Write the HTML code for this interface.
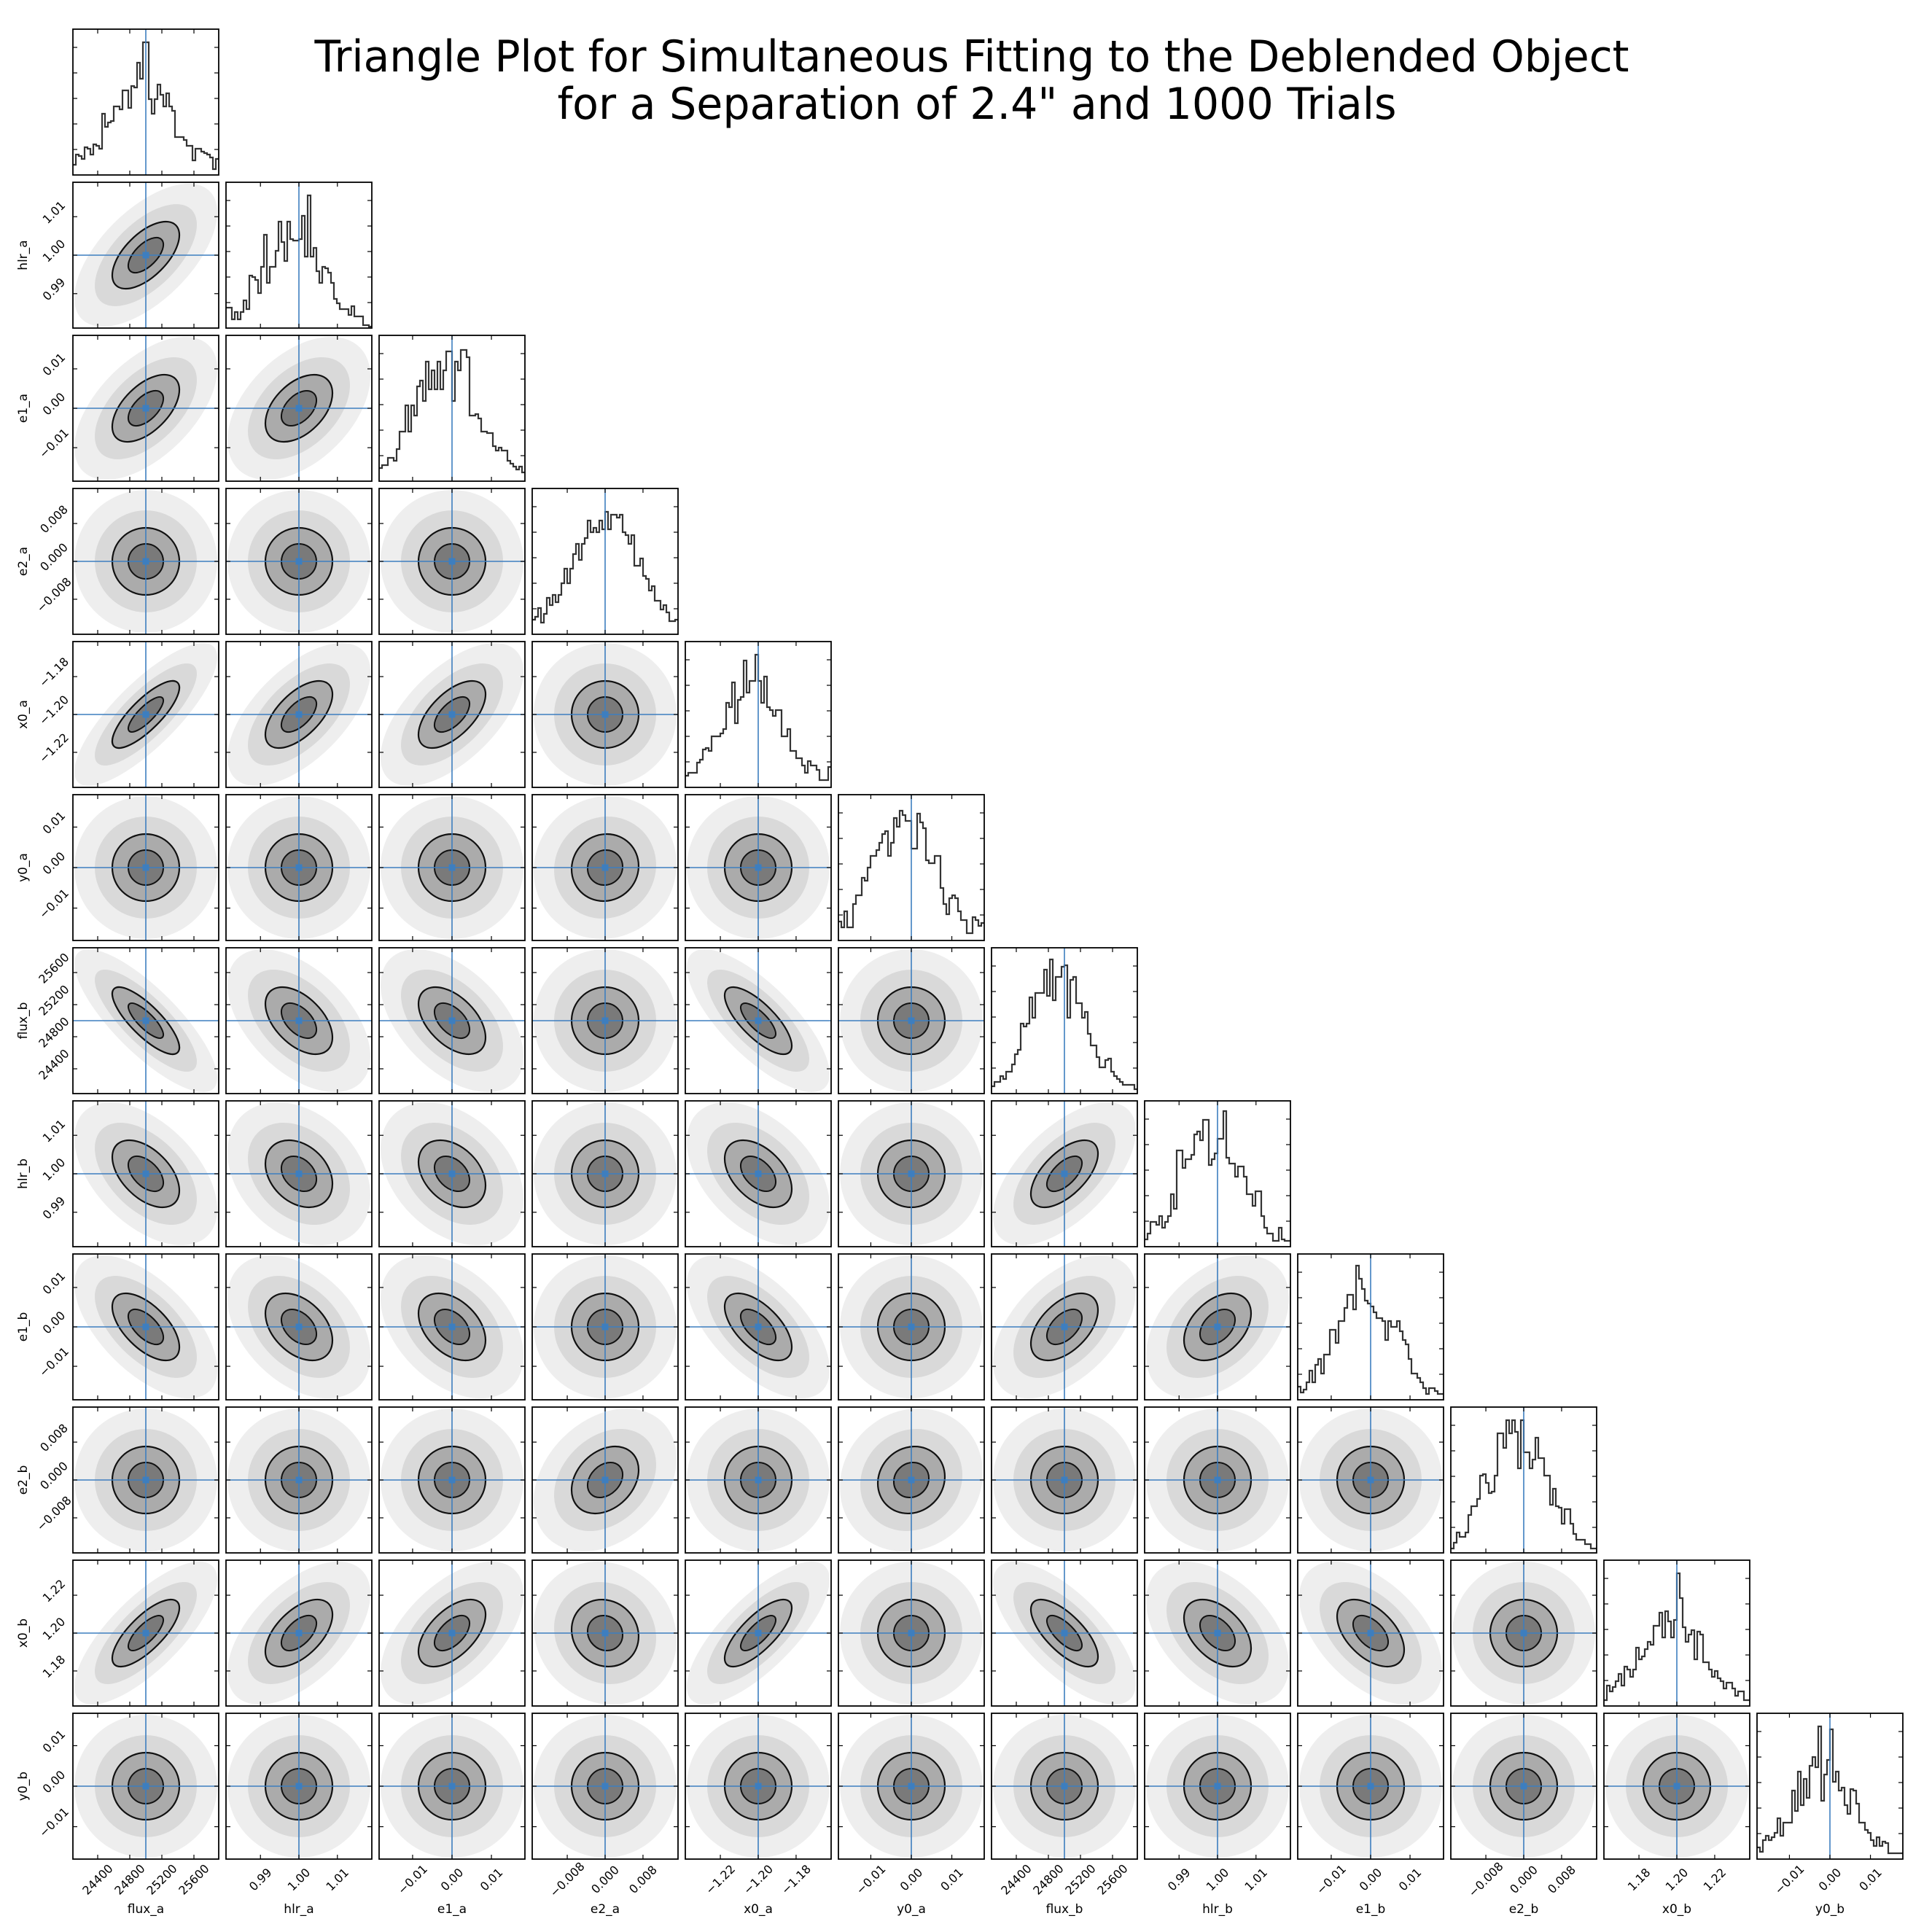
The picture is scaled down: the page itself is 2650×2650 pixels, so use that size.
<!DOCTYPE html>
<html><head><meta charset="utf-8"><title>Triangle Plot</title>
<style>html,body{margin:0;padding:0;background:#fff}svg{display:block}text{font-family:"DejaVu Sans","Liberation Sans",sans-serif}</style>
</head><body>
<svg id="chart" width="2650" height="2650" viewBox="0 0 2650 2650" xmlns="http://www.w3.org/2000/svg">
<rect width="2650" height="2650" fill="#fff"/>
<text x="1333" y="98" font-size="60" text-anchor="middle" textLength="1803" lengthAdjust="spacingAndGlyphs">Triangle Plot for Simultaneous Fitting to the Deblended Object</text>
<text x="1340" y="163" font-size="60" text-anchor="middle" textLength="1151" lengthAdjust="spacingAndGlyphs">for a Separation of 2.4" and 1000 Trials</text>
<g id="plots"></g>
</svg>
<script>
const varNames = ["flux_a","hlr_a","e1_a","e2_a","x0_a","y0_a","flux_b","hlr_b","e1_b","e2_b","x0_b","y0_b"];
const centers = [25000,1.0,0,0,-1.2,0,25000,1.0,0,0,1.2,0];
const ranges = [1818,0.0379,0.037,0.0308,0.077,0.036,1818,0.0379,0.037,0.0308,0.077,0.036];
const tickValues = [
 [24400,24800,25200,25600],[0.99,1.00,1.01],[-0.01,0,0.01],[-0.008,0,0.008],[-1.22,-1.20,-1.18],[-0.01,0,0.01],
 [24400,24800,25200,25600],[0.99,1.00,1.01],[-0.01,0,0.01],[-0.008,0,0.008],[1.18,1.20,1.22],[-0.01,0,0.01]];
const tickLabels = [
 ["24400","24800","25200","25600"],["0.99","1.00","1.01"],["\u22120.01","0.00","0.01"],["\u22120.008","0.000","0.008"],["\u22121.22","\u22121.20","\u22121.18"],["\u22120.01","0.00","0.01"],
 ["24400","24800","25200","25600"],["0.99","1.00","1.01"],["\u22120.01","0.00","0.01"],["\u22120.008","0.000","0.008"],["1.18","1.20","1.22"],["\u22120.01","0.00","0.01"]];
const histFluxA = [7,14,13,11,19,18,14,21,20,18,42,33,36,37,47,47,45,58,58,46,61,60,77,66,91,91,52,42,52,62,55,47,56,47,44,26,26,26,24,20,20,10,18,18,16,15,14,12,4,11];
const histHlrA = [14,14,6,11,6,11,19,13,36,35,33,24,42,64,31,42,42,53,73,59,46,73,61,60,60,61,77,49,91,49,55,39,31,42,41,38,31,20,17,13,13,13,9,15,8,8,8,2,2,1];
const histE1A = [9,11,11,16,16,14,22,34,34,52,34,52,45,65,69,55,82,63,76,63,82,63,76,89,89,55,82,76,90,90,85,45,45,46,43,34,34,33,33,24,21,23,21,21,14,12,10,8,10,6];
const histE2A = [10,12,18,8,14,25,20,27,22,27,35,45,35,45,55,62,51,62,66,78,70,73,70,78,72,84,72,82,82,80,82,70,68,62,68,47,47,52,40,38,30,33,23,23,17,20,15,9,9,10];
const histX0A = [8,10,10,10,17,19,26,27,25,35,35,35,37,40,58,55,72,44,60,62,87,65,73,73,91,73,58,76,55,53,49,53,53,35,35,40,25,25,20,20,15,10,18,15,15,12,5,5,5,14];
const histY0A = [13,9,20,9,9,25,31,31,43,41,50,58,58,62,67,73,75,58,67,84,78,89,86,82,82,63,63,87,81,77,55,53,53,58,58,36,25,18,29,31,29,20,14,14,5,5,16,14,10,12];
const histFluxB = [5,8,8,12,10,15,15,20,27,30,48,46,48,66,52,69,69,69,85,67,92,64,80,80,87,88,52,78,80,62,62,52,56,41,33,33,25,18,18,23,24,15,12,10,8,6,6,6,6,3];
const histHlrB = [5,9,17,17,15,21,13,17,21,36,26,66,66,54,60,60,63,77,79,73,87,87,56,60,64,74,74,93,61,57,57,48,55,55,48,36,36,28,38,38,21,13,9,9,4,4,13,5,4,4];
const histE1B = [9,5,7,12,20,12,24,28,18,31,31,48,48,39,54,54,63,72,72,62,92,83,76,68,66,64,60,56,56,54,41,54,50,50,54,47,41,38,28,18,18,15,12,8,4,8,8,6,4,4];
const histE2B = [3,7,14,11,11,14,26,32,32,37,53,54,48,41,42,53,82,82,72,91,82,91,83,58,91,69,69,58,64,79,65,65,53,53,33,44,32,31,20,30,30,20,13,9,9,9,6,6,3,3];
const histX0B = [4,14,10,13,17,22,14,27,25,20,25,40,32,34,39,44,42,55,55,64,47,65,58,47,59,91,74,54,44,49,52,32,51,49,30,30,25,20,24,19,17,12,16,16,12,7,10,10,4,4];
const histY0B = [8,5,13,16,13,15,18,28,16,25,25,25,47,33,60,37,55,42,64,70,63,91,40,58,68,89,53,60,47,49,37,31,48,47,38,25,25,20,18,13,9,15,9,12,11,4,4,4,4,4];
const histograms = [histFluxA,histHlrA,histE1A,histE2A,histX0A,histY0A,histFluxB,histHlrB,histE1B,histE2B,histX0B,histY0B];
const corrRows = [
 [],
 [0.6],
 [0.55,0.45],
 [0,0,0],
 [0.8,0.6,0.6,0],
 [0,0,0,0.05,0],
 [-0.8,-0.5,-0.5,0,-0.75,0],
 [-0.5,-0.3,-0.35,0,-0.45,0,0.6],
 [-0.6,-0.4,-0.4,0,-0.6,0,0.5,0.4],
 [0,0,0,0.3,0,0.1,0,0,0],
 [0.75,0.55,0.55,-0.1,0.75,0,-0.7,-0.45,-0.5,0],
 [0,0,0,0,0,0,0,0,0,0,0]];

const NS = "http://www.w3.org/2000/svg";
const X0 = 100, Y0 = 40, S = 200, PITCH = 210, N = varNames.length, NB = 50;
const root = document.getElementById('plots');
function mk(tag, attrs, parent){ const e=document.createElementNS(NS,tag); for(const k in attrs) e.setAttribute(k,attrs[k]); (parent||root).appendChild(e); return e; }
function panelLeft(j){ return X0 + j*PITCH; }
function panelTop(i){ return Y0 + i*PITCH; }
function xScale(j,v){ return panelLeft(j) + (0.5 + (v-centers[j])/ranges[j])*S; }
function yScale(i,v){ return panelTop(i) + (0.5 - (v-centers[i])/ranges[i])*S; }
function yCount(i,c){ return panelTop(i) + S - c/100*S; }
const BLUE = "#3d7ebf";

const defs = mk('defs',{});
for(let i=0;i<N;i++){
  for(let j=0;j<=i;j++){
    const g = mk('g',{});
    
    
    const cp = mk('clipPath',{id:'c'+i+'_'+j},defs);
    mk('rect',{x:panelLeft(j),y:panelTop(i),width:S,height:S},cp);
    const inner = mk('g',{'clip-path':'url(#c'+i+'_'+j+')'},g);
    if(i===j){
      const h = histograms[i];
      let d = '';
      for(let k=0;k<h.length;k++){
        const xa = xScale(j, centers[j]-ranges[j]/2 + k*ranges[j]/NB);
        const xb = xScale(j, centers[j]-ranges[j]/2 + (k+1)*ranges[j]/NB);
        const y = yCount(i,h[k]);
        d += (k===0?'M':'L')+xa.toFixed(1)+','+y.toFixed(1)+'L'+xb.toFixed(1)+','+y.toFixed(1);
      }
      const p = mk('path',{d:d,fill:'none',stroke:'#333','stroke-width':2.2},inner);
      
      
      const vx = xScale(j,centers[j]);
      mk('line',{x1:vx,y1:panelTop(i),x2:vx,y2:panelTop(i)+S,stroke:BLUE,'stroke-width':1.6},inner);
      for(let t=1;t<=5;t++){
        const yy = yCount(i, t*17.5);
        mk('line',{x1:panelLeft(j),y1:yy,x2:panelLeft(j)+6,y2:yy,stroke:'#000','stroke-width':1.2},g);
        mk('line',{x1:panelLeft(j)+S-6,y1:yy,x2:panelLeft(j)+S,y2:yy,stroke:'#000','stroke-width':1.2},g);
      }
    } else {
      const r = corrRows[i][j];
      const cx = xScale(j,centers[j]), cy = yScale(i,centers[i]);
      const sig = 40;
      const layers = [[2.45,'#eeeeee','none',0],[1.75,'#d9d9d9','none',0],[1.15,'#ababab','#111',2.2],[0.6,'#7a7a7a','#111',2]];
      for(const L of layers){
        const e = mk('ellipse',{cx:cx,cy:cy,rx:(L[0]*sig*Math.sqrt(1+r)).toFixed(1),ry:(L[0]*sig*Math.sqrt(Math.max(0.05,1-r))).toFixed(1),
          transform:'rotate(-45 '+cx+' '+cy+')',fill:L[1],stroke:L[2],'stroke-width':L[3]},inner);
        
        
      }
      mk('line',{x1:cx,y1:panelTop(i),x2:cx,y2:panelTop(i)+S,stroke:BLUE,'stroke-width':1.6},inner);
      mk('line',{x1:panelLeft(j),y1:cy,x2:panelLeft(j)+S,y2:cy,stroke:BLUE,'stroke-width':1.6},inner);
      mk('rect',{x:cx-4.5,y:cy-4.5,width:9,height:9,fill:BLUE},inner);
      tickValues[i].forEach(v=>{
        const yy = yScale(i,v);
        mk('line',{x1:panelLeft(j),y1:yy,x2:panelLeft(j)+6,y2:yy,stroke:'#000','stroke-width':1.2},g);
        mk('line',{x1:panelLeft(j)+S-6,y1:yy,x2:panelLeft(j)+S,y2:yy,stroke:'#000','stroke-width':1.2},g);
      });
    }
    tickValues[j].forEach(v=>{
      const xx = xScale(j,v);
      mk('line',{x1:xx,y1:panelTop(i),x2:xx,y2:panelTop(i)+6,stroke:'#000','stroke-width':1.2},g);
      mk('line',{x1:xx,y1:panelTop(i)+S-6,x2:xx,y2:panelTop(i)+S,stroke:'#000','stroke-width':1.2},g);
    });
    mk('rect',{x:panelLeft(j),y:panelTop(i),width:S,height:S,fill:'none',stroke:'#000','stroke-width':1.8},g);
  }
}
for(let j=0;j<N;j++){
  const by = panelTop(N-1)+S;
  tickValues[j].forEach((v,k)=>{
    const xx = xScale(j,v), yy = by+28;
    const t = mk('text',{x:xx,y:yy,'font-size':16,'text-anchor':'middle','dominant-baseline':'central',transform:'rotate(-45 '+xx+' '+yy+')'});
    t.textContent = tickLabels[j][k];
    
    
  });
  const lab = mk('text',{x:panelLeft(j)+S/2,y:2624,'font-size':17,'text-anchor':'middle'});
  lab.textContent = varNames[j];
  
  
}
for(let i=1;i<N;i++){
  tickValues[i].forEach((v,k)=>{
    const yy = yScale(i,v)-6, xx = X0-26;
    const t = mk('text',{x:xx,y:yy,'font-size':16,'text-anchor':'middle','dominant-baseline':'central',transform:'rotate(-45 '+xx+' '+yy+')'});
    t.textContent = tickLabels[i][k];
    
    
  });
  const cy = panelTop(i)+S/2;
  const lab = mk('text',{x:32,y:cy,'font-size':17,'text-anchor':'middle','dominant-baseline':'central',transform:'rotate(-90 32 '+cy+')'});
  lab.textContent = varNames[i];
  
  
}
</script>
</body></html>
